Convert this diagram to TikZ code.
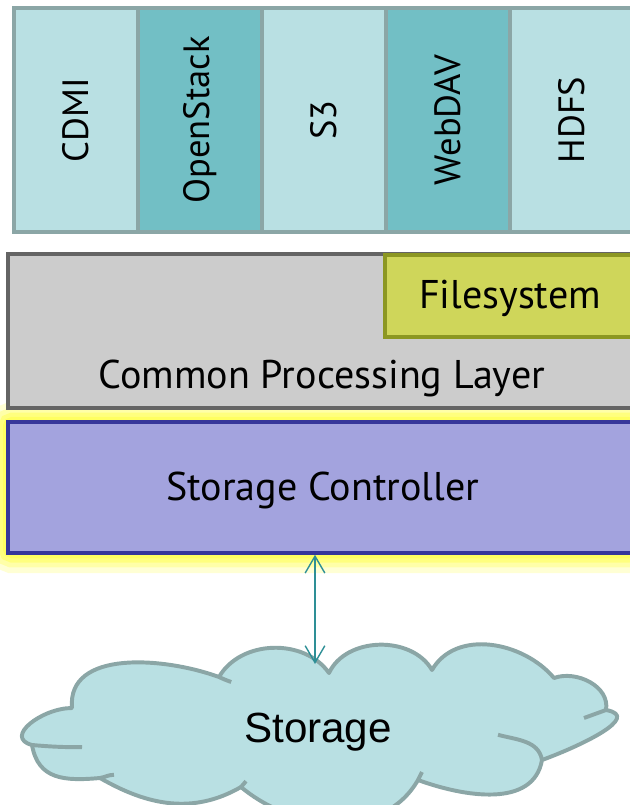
\documentclass[tikz,border=0pt]{standalone}
\usepackage{fontspec}
\setmainfont{PT Sans}
\newfontfamily\cloudfont{Liberation Sans}
\usepackage{tikz}
\usetikzlibrary{arrows.meta, backgrounds}
\definecolor{ProtoLight}{HTML}{B9E0E3}
\definecolor{ProtoDark}{HTML}{72BFC5}
\definecolor{ProtoEdge}{HTML}{8BA6A6}
\definecolor{LayerFill}{HTML}{CCCCCC}
\definecolor{LayerEdge}{HTML}{646464}
\definecolor{FsFill}{HTML}{CFD65A}
\definecolor{FsEdge}{HTML}{8C9722}
\definecolor{CtrlFill}{HTML}{A3A3DE}
\definecolor{CtrlEdge}{HTML}{36369A}
\definecolor{GlowYellow}{HTML}{FFFF55}
\definecolor{LinkTeal}{HTML}{2E8F96}

\begin{document}
\begin{tikzpicture}[
    proto/.style={draw=ProtoEdge, line width=2.8pt,
                  minimum width=3.1cm, minimum height=5.6cm},
    protoname/.style={rotate=90, inner sep=0pt, font=\fontsize{26}{30}\selectfont},
    layer/.style={draw=LayerEdge, fill=LayerFill, line width=2.8pt,
                  minimum width=15.6cm, minimum height=3.85cm},
    fs/.style={draw=FsEdge, fill=FsFill, line width=2.8pt,
               minimum width=6.175cm, minimum height=2.05cm},
    ctrl/.style={draw=CtrlEdge, fill=CtrlFill, line width=2.4pt,
                 minimum width=15.6cm, minimum height=3.275cm},
    lab/.style={font=\fontsize{28.5}{32}\selectfont, inner sep=0pt},
    glow/.style={draw=GlowYellow, rounded corners=4pt},
    link/.style={{Straight Barb[length=12pt,width=14pt]}-{Straight Barb[length=12pt,width=14pt]},
                 line width=1pt, LinkTeal},
    cloudline/.style={draw=ProtoEdge, line width=2.8pt, line join=round},
    storname/.style={font=\cloudfont\fontsize{30}{34}\selectfont, inner sep=0pt}
  ]
    \useasboundingbox (0,0) rectangle (15.725,-20.125);

    % Row 1: access protocols
    \node[proto, fill=ProtoLight] (cdmi)  at (1.9, -3.0)  {};
    \node[proto, fill=ProtoDark]  (ostk)  at (5.0, -3.0)  {};
    \node[proto, fill=ProtoLight] (s3)    at (8.1, -3.0)  {};
    \node[proto, fill=ProtoDark]  (dav)   at (11.2,-3.0)  {};
    \node[proto, fill=ProtoLight] (hdfs)  at (14.3,-3.0)  {};
    \node[protoname] (cdminame) at (cdmi) {CDMI};
    \node[protoname] (ostkname) at (ostk) {OpenStack};
    \node[protoname] (s3name)   at (s3)   {S3};
    \node[protoname] (davname)  at (dav)  {WebDAV};
    \node[protoname] (hdfsname) at (hdfs) {HDFS};

    % Row 2: common layer with filesystem
    \node[layer] (cpl)  at (8.0,-8.275) {};
    \node[fs]    (fsys) at (12.71,-7.4) {};
    \node[lab]   (fsname)  at (12.75,-7.45) {Filesystem};
    \node[lab]   (cplname) at (8.05,-9.45)  {Common Processing Layer};

    % Row 3: storage controller
    \node[ctrl] (sctl) at (8.0,-12.19) {};
    \node[lab]  (sctlname) at (8.07,-12.27) {Storage Controller};
    \begin{scope}[on background layer]
      \foreach \w/\o in {26/0.25, 18/0.35, 11/0.5, 5/0.7}
        \draw[glow, line width=\w pt, opacity=\o] (sctl.south west) rectangle (sctl.north east);
    \end{scope}

    % Backend storage cloud
    \coordinate (j1)  at (0.8,-18.625);
    \coordinate (j2)  at (1.8,-17.7);
    \coordinate (j3)  at (5.475,-16.925);
    \coordinate (j4)  at (8.225,-16.825);
    \coordinate (j5)  at (10.8,-16.75);
    \coordinate (j6)  at (13.85,-16.95);
    \coordinate (j7)  at (15.15,-17.75);
    \coordinate (j8)  at (13.55,-19.0);
    \coordinate (j9)  at (10.45,-19.5);
    \coordinate (j10) at (6.025,-19.675);
    \coordinate (j11) at (2.5,-19.45);
    \def\cloudpath{(j1) to[out=165,in=180,looseness=1.4] (j2) to[out=95,in=160] (j3)
      to[out=60,in=125] (j4) to[out=65,in=120] (j5) to[out=60,in=130] (j6)
      to[out=20,in=80] (j7) to[out=-10,in=20,looseness=1.2] (j8)
      to[out=-100,in=-20] (j9) to[out=-120,in=-40] (j10)
      to[out=-150,in=-30] (j11) to[out=185,in=-80,looseness=1.2] (j1)}
    \fill[ProtoLight] \cloudpath -- cycle;
    \draw[cloudline] \cloudpath;
    % inner ends of the puffs
    \draw[cloudline] (j1) to[out=-5,in=180] (2.05,-18.68);
    \draw[cloudline] (j3) to[out=-25,in=160] (5.78,-17.05);
    \draw[cloudline] (j7) to[out=-160,in=20] (14.6,-17.95);
    \draw[cloudline] (j8) to[out=100,in=-15] (12.45,-18.37);
    \draw[cloudline] (j9) to[out=80,in=-100] (10.55,-19.3);
    \draw[cloudline] (j10) to[out=40,in=-140] (6.15,-19.53);
    \draw[cloudline] (j11) to[out=10,in=180] (2.85,-19.37);
    \node[storname] (stor) at (7.95,-18.3) {Storage};
    \coordinate (stortop) at (7.875,-16.6);

    % Connector
    \draw[link] (sctl.south -| stortop) -- (stortop);
  \end{tikzpicture}
\end{document}
